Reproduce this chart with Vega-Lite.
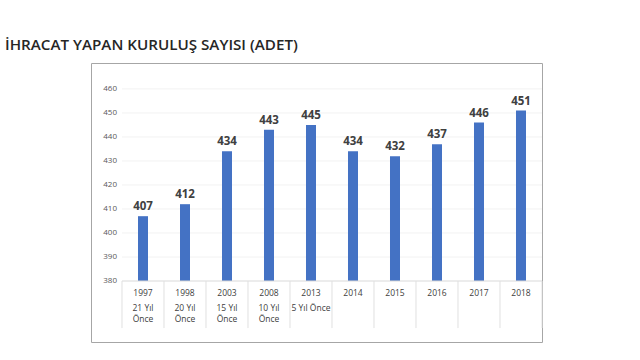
{
  "$schema": "https://vega.github.io/schema/vega-lite/v6.json",
  "autosize": {"type": "none"},
  "padding": {"left": 91, "top": 63, "right": 98, "bottom": 18},
  "width": 451,
  "height": 279,
  "background": "white",
  "title": {
    "text": "İHRACAT YAPAN KURULUŞ SAYISI (ADET)",
    "anchor": "start",
    "frame": "group",
    "dx": -86,
    "offset": 10,
    "font": "Open Sans",
    "fontSize": 15.2,
    "fontWeight": 600,
    "color": "#262626"
  },
  "config": {
    "view": {"stroke": "#a6a6a6", "strokeWidth": 1},
    "font": "Open Sans"
  },
  "datasets": {
    "main": [
      {"year": "1997", "value": 407, "note": "21 Yıl\nÖnce"},
      {"year": "1998", "value": 412, "note": "20 Yıl\nÖnce"},
      {"year": "2003", "value": 434, "note": "15 Yıl\nÖnce"},
      {"year": "2008", "value": 443, "note": "10 Yıl\nÖnce"},
      {"year": "2013", "value": 445, "note": "5 Yıl Önce"},
      {"year": "2014", "value": 434, "note": ""},
      {"year": "2015", "value": 432, "note": ""},
      {"year": "2016", "value": 437, "note": ""},
      {"year": "2017", "value": 446, "note": ""},
      {"year": "2018", "value": 451, "note": ""}
    ],
    "grid": [
      {"g": 380}, {"g": 390}, {"g": 400}, {"g": 410}, {"g": 420}, {"g": 430}, {"g": 440}, {"g": 450}, {"g": 460}
    ]
  },
  "data": {"name": "main"},
  "encoding": {
    "x": {
      "field": "year",
      "type": "nominal",
      "sort": null,
      "axis": null,
      "scale": {
        "domain": ["1997", "1998", "2003", "2008", "2013", "2014", "2015", "2016", "2017", "2018"],
        "paddingInner": 0,
        "paddingOuter": 0.369,
        "align": 1
      }
    }
  },
  "layer": [
    {
      "data": {"name": "grid"},
      "transform": [{"filter": "datum.g > 380"}],
      "mark": {"type": "rule", "color": "#f2f2f2", "strokeWidth": 1},
      "encoding": {
        "x": {"datum": "1997", "bandPosition": 0},
        "x2": {"datum": "2018", "bandPosition": 1},
        "y": {
          "field": "g",
          "type": "quantitative",
          "scale": {"domain": [354.6, 470.8], "nice": false, "zero": false},
          "axis": null
        }
      }
    },
    {
      "data": {"name": "grid"},
      "mark": {"type": "text", "fontSize": 8, "color": "#595959", "align": "right", "baseline": "middle", "dx": -5},
      "encoding": {
        "x": {"datum": "1997", "bandPosition": 0},
        "y": {"field": "g", "type": "quantitative", "axis": null},
        "text": {"field": "g", "type": "quantitative"}
      }
    },
    {
      "mark": {"type": "bar", "color": "#4472C4", "size": 10},
      "encoding": {
        "y": {"field": "value", "type": "quantitative", "axis": null},
        "y2": {"datum": 380}
      }
    },
    {
      "mark": {"type": "text", "fontWeight": "bold", "fontSize": 11.5, "color": "#404040", "baseline": "bottom", "dy": -4},
      "encoding": {
        "y": {"field": "value", "type": "quantitative", "axis": null},
        "text": {"field": "value", "type": "quantitative"}
      }
    },
    {
      "data": {"name": "grid"},
      "transform": [{"filter": "datum.g == 380"}],
      "mark": {"type": "rule", "color": "#d9d9d9", "strokeWidth": 1},
      "encoding": {
        "x": {"datum": "1997", "bandPosition": 0},
        "x2": {"datum": "2018", "bandPosition": 1},
        "y": {"field": "g", "type": "quantitative", "axis": null}
      }
    },
    {
      "mark": {"type": "rule", "color": "#e0e0e0", "strokeWidth": 1},
      "encoding": {
        "x": {"field": "year", "type": "nominal", "bandPosition": 0},
        "y": {"datum": 380, "axis": null},
        "y2": {"datum": 360.4}
      }
    },
    {
      "data": {"name": "grid"},
      "transform": [{"filter": "datum.g == 380"}],
      "mark": {"type": "rule", "color": "#e0e0e0", "strokeWidth": 1},
      "encoding": {
        "x": {"datum": "2018", "bandPosition": 1},
        "y": {"datum": 380, "axis": null},
        "y2": {"datum": 360.4}
      }
    },
    {
      "mark": {"type": "text", "fontSize": 8.5, "color": "#404040", "baseline": "middle"},
      "encoding": {
        "y": {"datum": 375, "axis": null},
        "text": {"field": "year", "type": "nominal"}
      }
    },
    {
      "mark": {"type": "text", "fontSize": 8.5, "color": "#404040", "baseline": "top", "lineBreak": "\n", "lineHeight": 11.5},
      "encoding": {
        "y": {"datum": 370.6, "axis": null},
        "text": {"field": "note", "type": "nominal"}
      }
    }
  ]
}
